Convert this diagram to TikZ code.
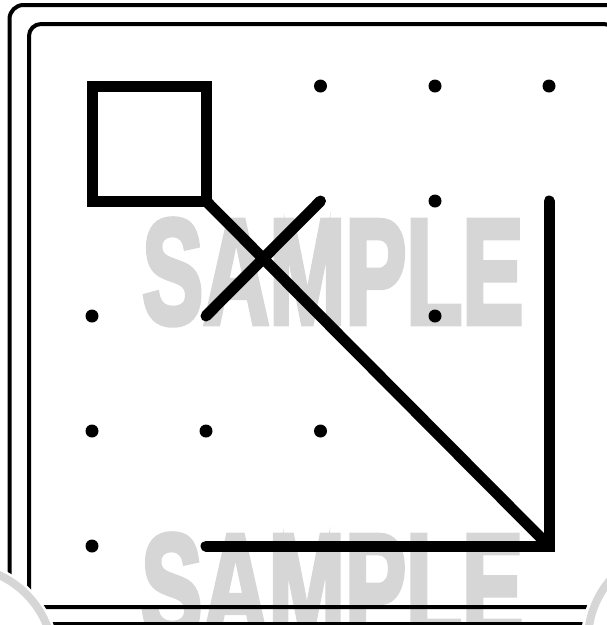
\documentclass[tikz,border=0pt]{standalone}
\usepackage{fontspec}
\setmainfont{Liberation Sans}
\newfontfamily\wmfont[FakeBold=4]{Liberation Sans Bold}
\usepackage{graphicx}
\definecolor{wmgray}{RGB}{214,214,214}
\begin{document}
\begin{tikzpicture}[x=1pt,y=-1pt,
  frame/.style={line width=4pt, rounded corners=14pt},
  stroke/.style={line width=11pt, line cap=round, line join=miter},
  dot/.style={circle, fill=black, inner sep=0pt, minimum size=13pt},
  wm/.style={text=wmgray, inner sep=0pt, anchor=north west},
  ring/.style={draw=wmgray, line width=8pt},
]
\useasboundingbox (0,0) rectangle (607,625);
\clip (0,0) rectangle (607,625);
% watermark
\node[wm] (wm1) at (142,219) {\resizebox{381pt}{104pt}{\wmfont SAMPLE}};
\node[wm] (wm2) at (141,534) {\resizebox{382pt}{104pt}{\wmfont SAMPLE}};
% frames
\draw[frame] (9.5,5) rectangle (634,624);
\draw[frame, rounded corners=12pt] (29,24) rectangle (616,607);
% corner rings
\fill[white] (-40,660) circle[radius=100pt];
\draw[ring] (-40,660) circle[radius=93.5pt];
\fill[white] (680,640) circle[radius=99pt];
\draw[ring] (680,640) circle[radius=92pt];
% grid
\foreach \i/\x in {1/92,2/206,3/320.5,4/435,5/549}
  \foreach \j/\y in {1/86,2/201,3/316,4/431,5/546}
    \coordinate (g\i\j) at (\x,\y);
% lines
\draw[stroke] (g11) rectangle (g22);
\draw[stroke] (g22) -- (g55);
\draw[stroke] (g23) -- (g32);
\draw[stroke] (g52) -- (g55) -- (g25);
% dots
\foreach \n in {31,41,51,42,13,43,14,24,34,15}
  \node[dot] (d\n) at (g\n) {};
\end{tikzpicture}
\end{document}
